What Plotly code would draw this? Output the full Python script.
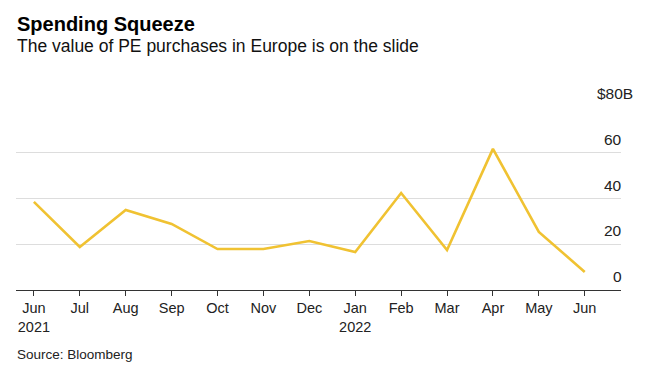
import plotly.graph_objects as go

months = ["Jun<br>2021", "Jul", "Aug", "Sep", "Oct", "Nov", "Dec", "Jan<br>2022",
          "Feb", "Mar", "Apr", "May", "Jun"]
values = [38.5, 18.8, 35.0, 28.9, 17.9, 17.9, 21.4, 16.6, 42.4, 17.5, 61.7, 25.4, 7.9]
y_ticks = [0, 20, 40, 60, 80]
y_labels = ["0", "20", "40", "60", "$80B"]
y_max = 80

x = list(range(len(months)))

fig = go.Figure()
fig.add_trace(go.Scatter(x=x, y=values, mode="lines",
                         line=dict(color="#F0C232", width=2.6), hoverinfo="skip"))

font = "Liberation Sans, Arial, sans-serif"

for v, lab in zip(y_ticks, y_labels):
    extra = 11 if lab.endswith("B") else 0
    fig.add_annotation(x=1, xref="paper", y=v / y_max, yref="paper", text=lab, showarrow=False,
                       xanchor="right", yanchor="bottom", xshift=3 + extra, yshift=3,
                       font=dict(family=font, size=15.5, color="#222"))

fig.add_annotation(x=0, xref="paper", y=1, yref="paper", yshift=70, text="<b>Spending Squeeze</b>",
                   showarrow=False, xanchor="left", yanchor="bottom", xshift=-1,
                   font=dict(family=font, size=20, color="#000"))
fig.add_annotation(x=0, xref="paper", y=1, yref="paper", yshift=49,
                   text="The value of PE purchases in Europe is on the slide",
                   showarrow=False, xanchor="left", yanchor="bottom", xshift=-1,
                   font=dict(family=font, size=17.5, color="#111"))
fig.add_annotation(x=0, xref="paper", y=0, yref="paper", yshift=-74, text="Source: Bloomberg",
                   showarrow=False, xanchor="left", yanchor="bottom", xshift=-1,
                   font=dict(family=font, size=13.5, color="#222"))

fig.update_layout(
    width=637, height=365,
    margin=dict(l=8, r=24, t=99, b=83),
    paper_bgcolor="white", plot_bgcolor="white",
    showlegend=False,
    xaxis=dict(range=[-0.39, 12.79], tickvals=x, ticktext=months,
               showgrid=False, zeroline=False, showline=True, linecolor="#333", linewidth=1,
               ticks="outside", ticklen=5, tickcolor="#333", tickwidth=1,
               tickfont=dict(family=font, size=14.5, color="#222"), fixedrange=True),
    yaxis=dict(range=[0, y_max], tickvals=y_ticks, showticklabels=False,
               showgrid=True, gridcolor="#DDDDDD", gridwidth=1, zeroline=False,
               fixedrange=True),
)

fig.write_html("out.html")
